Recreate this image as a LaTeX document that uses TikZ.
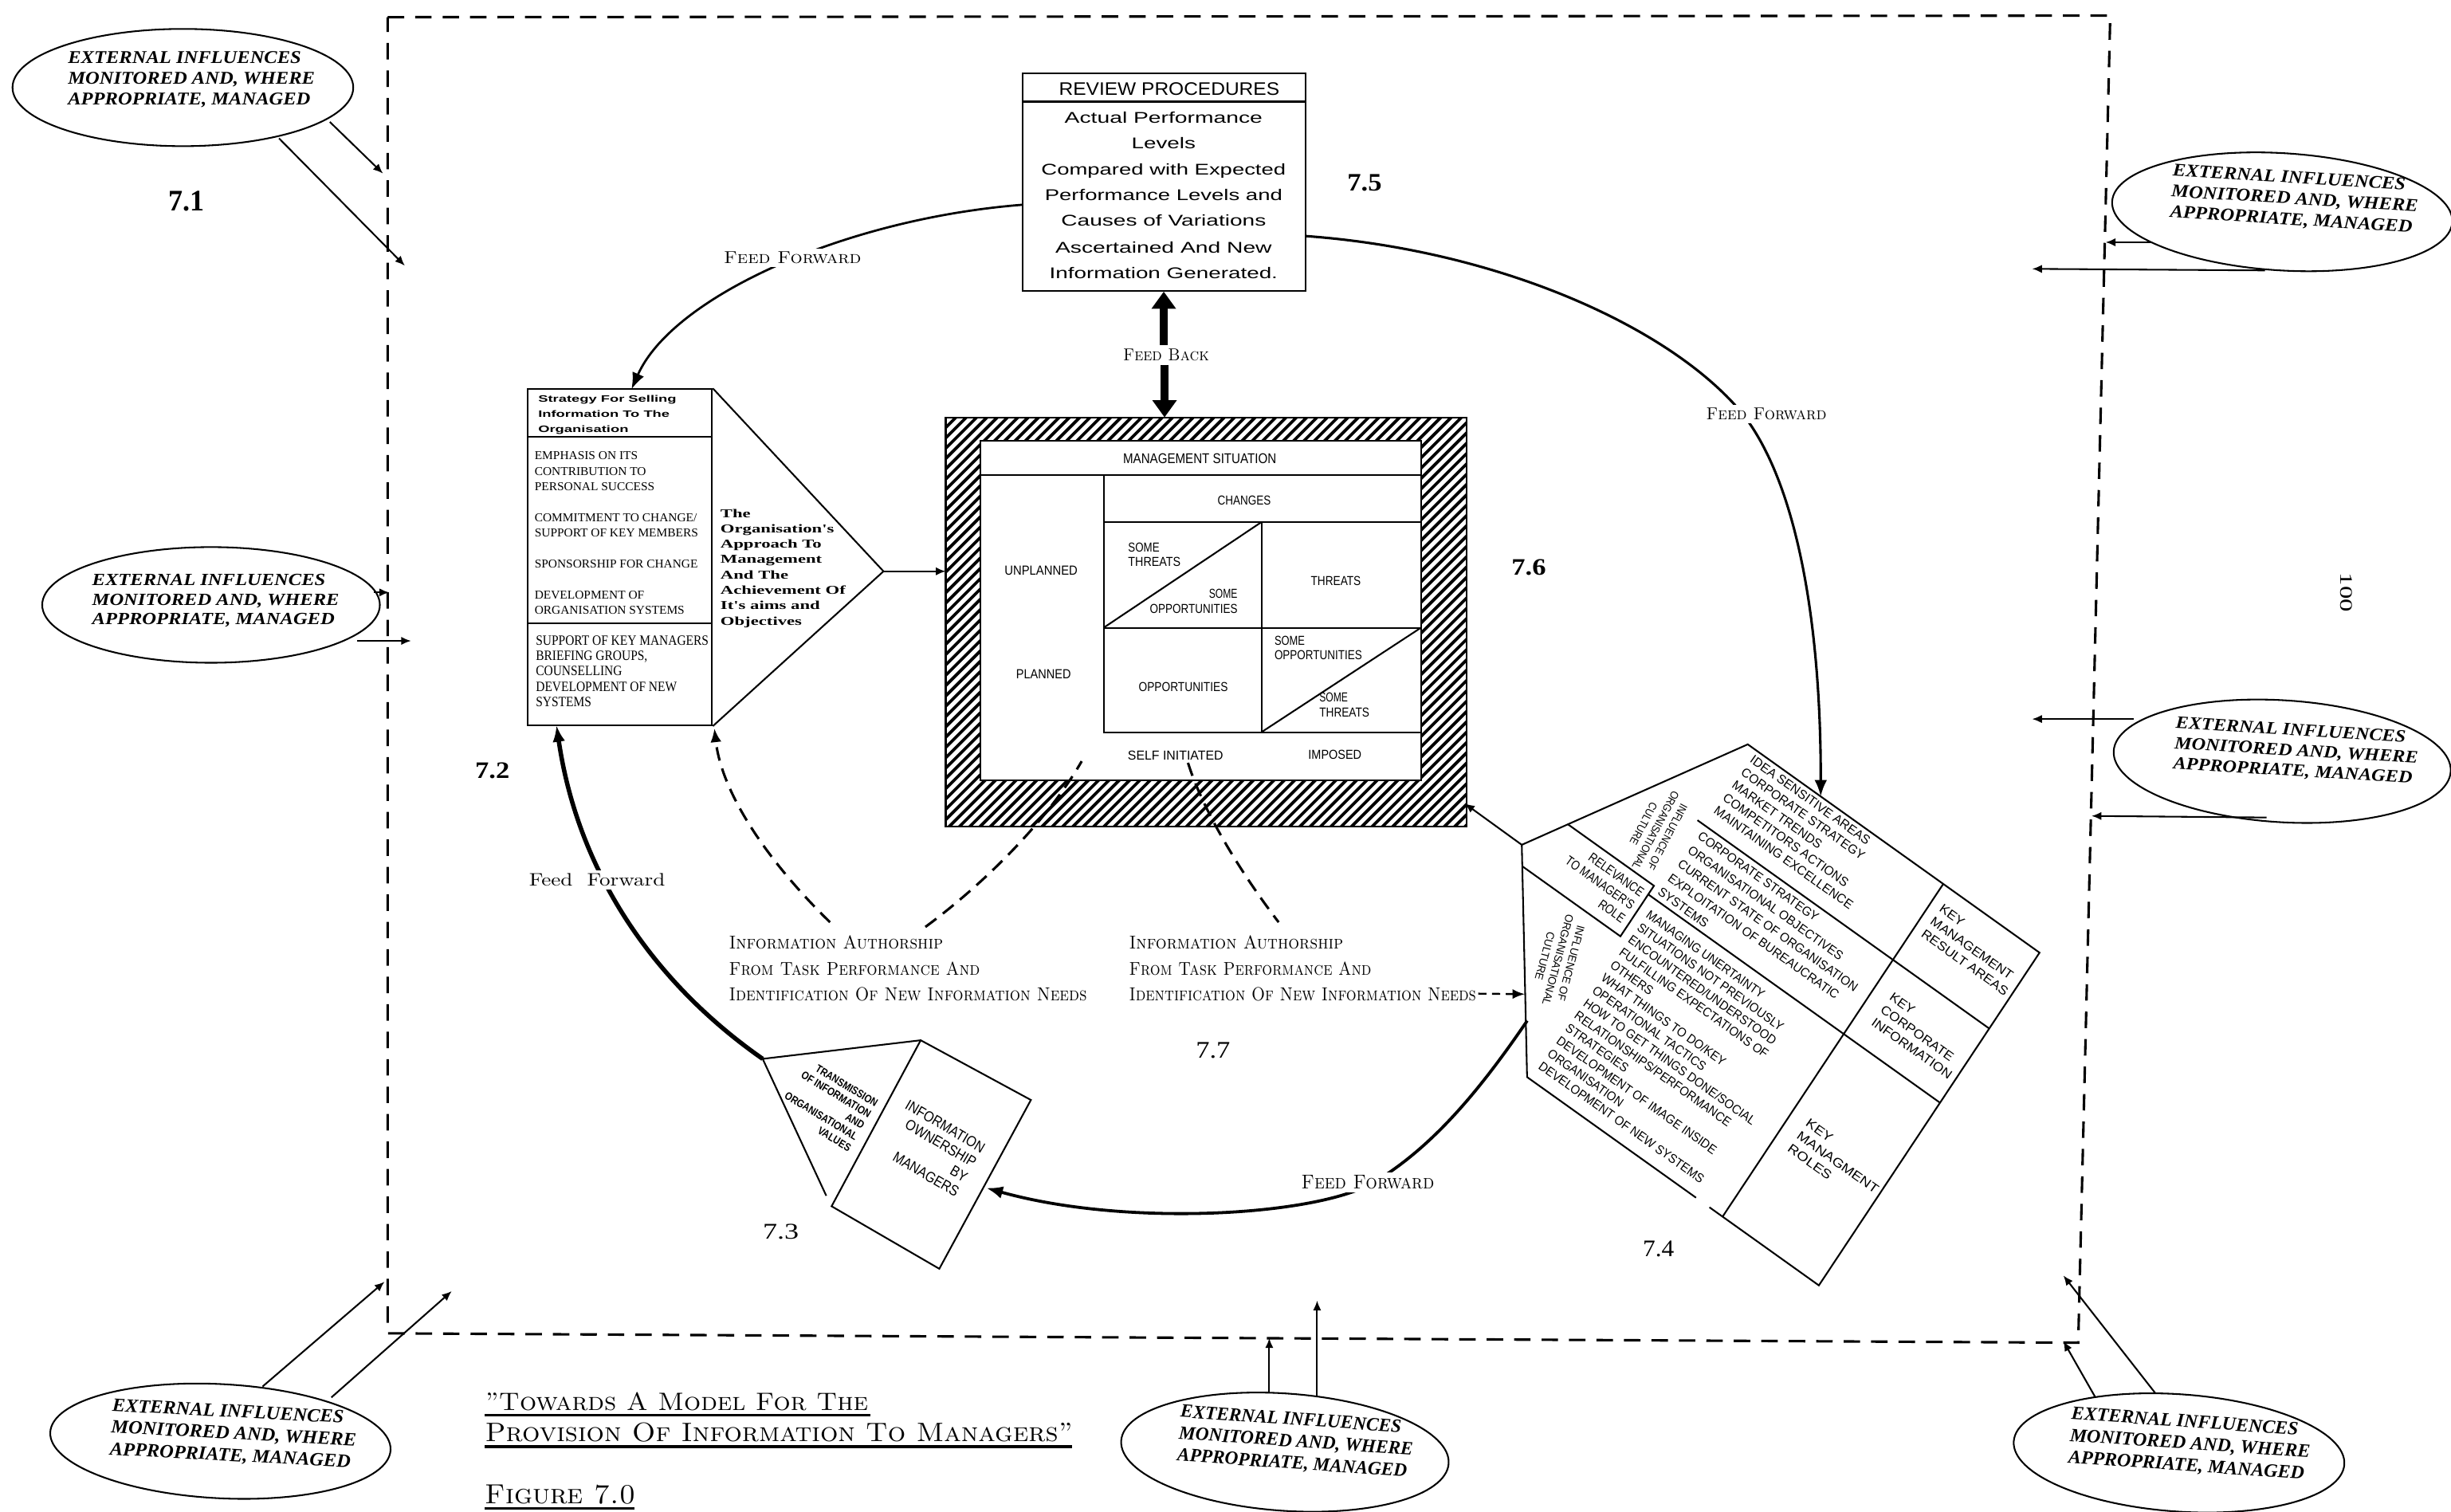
\documentclass[tikz,border=0pt]{standalone}
\usepackage{fontspec}
\usepackage{graphicx}
\usetikzlibrary{arrows.meta,shapes.geometric}
\newfontfamily\fser{Liberation Serif}
\newfontfamily\fsans{Liberation Sans}
\newlength\pxl
\setlength\pxl{0.02cm}
\newcommand\pu{0.02cm}
\newcommand\rb[3]{\resizebox{#1\pxl}{#2\pxl}{#3}}
\newcommand\rbt[4]{\resizebox*{#1\pxl}{#2\pxl}{\begin{tabular}{@{}#3@{}}#4\end{tabular}}}
\newcommand\extxt{EXTERNAL INFLUENCES\\MONITORED AND, WHERE\\APPROPRIATE, MANAGED}
\tikzset{
  ln/.style={line width=0.6pt},
  ell/.style={draw, ellipse, line width=0.6pt, inner sep=0pt},
  etx/.style={inner sep=0pt, font=\fser\bfseries\itshape\fontsize{10}{11.6}\selectfont},
  tx/.style={inner sep=0pt},
  lab/.style={inner sep=1.2pt, fill=white},
  sm/.style={line width=0.6pt, -{Latex[length=3.6pt,width=3pt]}},
  ffa/.style={-{Latex[length=6pt,width=4.6pt]}},
  dsh/.style={line width=0.9pt, dash pattern=on 5pt off 3pt},
  bound/.style={line width=0.9pt, dash pattern=on 6pt off 4pt},
  fbk/.style={line width=0.1cm, -{Triangle[length=0.22cm,width=0.3cm]}},
  ks/.style={tx, rotate=-35.4, anchor=north west},
}
\begin{document}
\begin{tikzpicture}[x=0.02cm,y=-0.02cm]
\useasboundingbox (0,0) rectangle (1568,967.3);
\fill[white] (0,0) rectangle (1568,967.3);

% ---------- dashed boundary ----------
\coordinate (bTL) at (248,11);
\coordinate (bTR) at (1350,10);
\coordinate (bBR) at (1329.5,859);
\coordinate (bBL) at (248,853);
\draw[bound] (bTL) -- (bTR) -- (bBR) -- (bBL) -- cycle;

% ---------- ellipses ----------
\node[ell, minimum width=218*\pu, minimum height=75*\pu] (e1) at (117,56) {};
\node[etx] (e1t) at (122.5,51) {\rbt{158}{40}{l}{\extxt}};
\coordinate (e1a1) at (211,78); \coordinate (e1b1) at (245,111);
\coordinate (e1a2) at (178.5,88.5); \coordinate (e1b2) at (259,170);
\draw[sm] (e1a1) -- (e1b1);
\draw[sm] (e1a2) -- (e1b2);
\node[tx] (n71) at (119.5,128.7) {\rb{23}{12.6}{\fser\bfseries 7.1}};

\node[ell, minimum width=216*\pu, minimum height=74*\pu] (e2) at (135,387) {};
\node[etx] (e2t) at (138,384.5) {\rbt{158}{38}{l}{\extxt}};
\coordinate (e2a1) at (239,379); \coordinate (e2b1) at (249,379);
\coordinate (e2a2) at (228.5,410); \coordinate (e2b2) at (263,410);
\draw[sm] (e2a1) -- (e2b1);
\draw[sm] (e2a2) -- (e2b2);

\node[ell, rotate=-3, minimum width=218*\pu, minimum height=73*\pu] (e3) at (141,922) {};
\node[etx, rotate=-3] (e3t) at (149.5,918) {\rbt{157}{42}{l}{\extxt}};
\coordinate (e3a1) at (168,887); \coordinate (e3b1) at (246,820);
\coordinate (e3a2) at (212,894); \coordinate (e3b2) at (289,826);
\draw[sm] (e3a1) -- (e3b1);
\draw[sm] (e3a2) -- (e3b2);

\node[ell, rotate=-4, minimum width=210*\pu, minimum height=75*\pu] (e4) at (822,929) {};
\node[etx, rotate=-4] (e4t) at (829,923) {\rbt{150}{42}{l}{\extxt}};
\coordinate (e4a1) at (812,891); \coordinate (e4b1) at (812,856);
\coordinate (e4a2) at (842.6,893); \coordinate (e4b2) at (842.6,832);
\draw[sm] (e4a1) -- (e4b1);
\draw[sm] (e4a2) -- (e4b2);

\node[ell, rotate=-3.5, minimum width=218*\pu, minimum height=75*\pu] (e5) at (1460,135.5) {};
\node[etx, rotate=-3.5] (e5t) at (1468,128) {\rbt{158}{40}{l}{\extxt}};
\coordinate (e5a1) at (1377,155); \coordinate (e5b1) at (1347,155);
\coordinate (e5a2) at (1449,173); \coordinate (e5b2) at (1300,172);
\draw[sm] (e5a1) -- (e5b1);
\draw[sm] (e5a2) -- (e5b2);

\node[ell, rotate=-3.5, minimum width=216*\pu, minimum height=78*\pu] (e6) at (1460,487) {};
\node[etx, rotate=-3.5] (e6t) at (1469,481) {\rbt{156}{39}{l}{\extxt}};
\coordinate (e6a1) at (1365,460); \coordinate (e6b1) at (1300,460);
\coordinate (e6a2) at (1450,523); \coordinate (e6b2) at (1338,522);
\draw[sm] (e6a1) -- (e6b1);
\draw[sm] (e6a2) -- (e6b2);

\node[ell, rotate=-4, minimum width=212*\pu, minimum height=75*\pu] (e7) at (1394,929.5) {};
\node[etx, rotate=-4] (e7t) at (1401,924.5) {\rbt{154}{42}{l}{\extxt}};
\coordinate (e7a1) at (1379,891.5); \coordinate (e7b1) at (1320,816);
\coordinate (e7a2) at (1340.5,894); \coordinate (e7b2) at (1320,858);
\draw[sm] (e7a1) -- (e7b1);
\draw[sm] (e7a2) -- (e7b2);

\node[tx, rotate=-90] (p100) at (1501,379) {\rb{25}{7.5}{\fser 100}};

% ---------- review procedures ----------
\node[draw, ln, inner sep=0pt, minimum width=181*\pu, minimum height=139*\pu] (rev) at (744.5,116.5) {};
\draw[ln] (654,65) -- (835,65);
\node[tx, anchor=base] (rvh) at (748,60.8) {\rb{141}{8.1}{\fsans REVIEW PROCEDURES}};
\node[tx, anchor=base] (rv1) at (744.4,79) {\rb{126.6}{7.2}{\fsans Actual Performance}};
\node[tx, anchor=base] (rv2) at (744.4,95.2) {\rb{41}{7.2}{\fsans Levels}};
\node[tx, anchor=base] (rv3) at (744.4,111.9) {\rb{156.4}{7.2}{\fsans Compared with Expected}};
\node[tx, anchor=base] (rv4) at (744.4,128.3) {\rb{152}{7.2}{\fsans Performance Levels and}};
\node[tx, anchor=base] (rv5) at (744.4,144.8) {\rb{131}{7.2}{\fsans Causes of Variations}};
\node[tx, anchor=base] (rv6) at (744.4,161.8) {\rb{138.5}{7.2}{\fsans Ascertained And New}};
\node[tx, anchor=base] (rv7) at (744.4,178.1) {\rb{146}{7.2}{\fsans Information Generated.}};
\node[tx] (n75) at (873,117) {\rb{22}{10.5}{\fser\bfseries 7.5}};

% ---------- management situation ----------
\node[tx, minimum width=333*\pu, minimum height=262*\pu] (ms) at (771.5,398) {};
\begin{scope}
  \clip (605,267) rectangle (938,529);
  \foreach \i in {0,...,91} { \draw[line width=1.1pt] ({343+6.6*\i},529) -- ++(262,-262); }
\end{scope}
\fill[white] (627,282) rectangle (909,499);
\draw[ln] (605,267) rectangle (938,529);
\draw[ln] (627,282) rectangle (909,499);
\draw[ln] (627,304) -- (909,304);
\draw[ln] (706,304) -- (706,468.4) -- (909,468.4);
\draw[ln] (706,334) -- (909,334);
\draw[ln] (706,401.6) -- (909,401.6);
\draw[ln] (807,334) -- (807,468.4);
\draw[ln] (706,401.6) -- (807,334);
\draw[ln] (807,468.4) -- (909,401.6);
\node[tx] (mst) at (767.5,293.5) {\rb{98}{6.3}{\fsans MANAGEMENT SITUATION}};
\node[tx] (chg) at (796,320) {\rb{34}{5.8}{\fsans CHANGES}};
\node[tx] (unp) at (666,365) {\rb{46.7}{5.8}{\fsans UNPLANNED}};
\node[tx] (pln) at (667.6,431.4) {\rb{35}{5.8}{\fsans PLANNED}};
\node[tx, anchor=west] (s1a) at (721.4,350) {\rb{20}{5.8}{\fsans SOME}};
\node[tx, anchor=west] (s1b) at (721.4,359.4) {\rb{33.5}{5.8}{\fsans THREATS}};
\node[tx, anchor=east] (s1c) at (792,380) {\rb{18.2}{5.8}{\fsans SOME}};
\node[tx, anchor=east] (s1d) at (792,389.6) {\rb{56}{5.8}{\fsans OPPORTUNITIES}};
\node[tx] (thr) at (854.6,371.7) {\rb{32}{5.8}{\fsans THREATS}};
\node[tx, anchor=west] (s2a) at (815,410) {\rb{19.4}{5.8}{\fsans SOME}};
\node[tx, anchor=west] (s2b) at (815,419) {\rb{56}{5.8}{\fsans OPPORTUNITIES}};
\node[tx] (opp) at (757,439.6) {\rb{57}{5.8}{\fsans OPPORTUNITIES}};
\node[tx, anchor=west] (s2c) at (843.7,446) {\rb{18.2}{5.8}{\fsans SOME}};
\node[tx, anchor=west] (s2d) at (843.7,455.6) {\rb{32}{5.8}{\fsans THREATS}};
\node[tx] (slf) at (752,483.4) {\rb{61}{5.8}{\fsans SELF INITIATED}};
\node[tx] (imp) at (854,483) {\rb{34}{5.8}{\fsans IMPOSED}};
\node[tx] (n76) at (978,363) {\rb{22}{10}{\fser\bfseries 7.6}};

% ---------- feed back ----------
\node[lab] (fb) at (746,227) {\rb{55}{7.5}{\scshape Feed Back}};
\coordinate (msn) at (745,267);
\draw[fbk] (fb.north -| rev.south) -- (rev.south);
\draw[fbk] (fb.south -| msn) -- (msn);

% ---------- strategy box 7.2 ----------
\node[draw, ln, inner sep=0pt, minimum width=118.1*\pu, minimum height=215*\pu] (st) at (396.45,356.5) {};
\draw[ln] (337.4,279.6) -- (455.5,279.6);
\draw[ln] (337.4,398.6) -- (455.5,398.6);
\coordinate (sttip) at (565.2,365.5);
\draw[ln] (st.north east) -- (sttip) -- (st.south east);
\coordinate (msl) at (605,365.5);
\draw[sm] (sttip) -- (msl);
\node[tx, anchor=north west, font=\fsans\bfseries\fontsize{10}{16.4}\selectfont] (sth) at (344,249.9)
  {\rbt{88.4}{29.25}{l}{Strategy For Selling\\Information To The\\Organisation}};
\node[tx, anchor=north west, font=\fser\fontsize{10}{12.85}\selectfont] (stm) at (341.7,286.8)
  {\rbt{104.6}{108.9}{l}{EMPHASIS ON ITS\\CONTRIBUTION TO\\PERSONAL SUCCESS\\ \\COMMITMENT TO CHANGE/\\SUPPORT OF KEY MEMBERS\\ \\SPONSORSHIP FOR CHANGE\\ \\DEVELOPMENT OF\\ORGANISATION SYSTEMS}};
\node[tx, anchor=north west, font=\fser\fontsize{10}{10.9}\selectfont] (stb) at (342.5,405.3)
  {\rbt{110.5}{49.5}{l}{SUPPORT OF KEY MANAGERS\\BRIEFING GROUPS,\\COUNSELLING\\DEVELOPMENT OF NEW\\SYSTEMS}};
\node[tx, anchor=north west, font=\fser\bfseries\fontsize{10}{12.8}\selectfont] (stt) at (460.6,323.7)
  {\rbt{80}{78.7}{l}{The\\Organisation's\\Approach To\\Management\\And The\\Achievement Of\\It's aims and\\Objectives}};
\node[tx] (n72) at (315,493) {\rb{22}{10}{\fser\bfseries 7.2}};

% ---------- box 7.4 ----------
\begin{scope}[shift={(1118.1,476.2)}, x={(3.734cm,-2.666cm)}, y={(-2.824cm,-4.258cm)}]
  \coordinate (kT) at (0,0);
  \coordinate (kR) at (1,0);
  \coordinate (kB) at (1,1);
  \coordinate (kL) at (0,1);
  \coordinate (ktip) at (-0.3706,0.534);
  \coordinate (ktop) at (0.25,0);
  \draw[ln] (ktip) -- (kT) -- (kR) -- (kB) -- (0.625,1);
  \draw[ln] (0.579,1) -- (kL) -- (ktip);
  \draw[ln] (0,0.228) -- (1,0.228);
  \draw[ln] (0,0.451) -- (1,0.451);
  \draw[ln] (0.67,0) -- (0.67,1);
  \draw[ln] (-0.295,0.425) -- (0,0.425) -- (0,0.577) -- (-0.3364,0.577);
  \node[ks, font=\fsans\fontsize{10}{12.3}\selectfont] (k1) at (0.03,0.005)
    {\rbt{107}{50}{l}{IDEA SENSITIVE AREAS\\CORPORATE STRATEGY\\MARKET TRENDS\\COMPETITORS ACTIONS\\MAINTAINING EXCELLENCE}};
  \node[ks, font=\fsans\fontsize{10}{13.6}\selectfont] (k2) at (0.026,0.234)
    {\rbt{139}{55}{l}{CORPORATE STRATEGY\\ORGANISATIONAL OBJECTIVES\\CURRENT STATE OF ORGANISATION\\EXPLOITATION OF BUREAUCRATIC\\SYSTEMS}};
  \node[ks, font=\fsans\fontsize{10}{12.2}\selectfont] (k3) at (0.027,0.4726)
    {\rbt{133}{128.7}{l}{MANAGING UNERTAINTY\\SITUATIONS NOT PREVIOUSLY\\ENCOUNTERED/UNDERSTOOD\\FULFILLING EXPECTATIONS OF\\OTHERS\\WHAT THINGS TO DO/KEY\\OPERATIONAL TACTICS\\HOW TO GET THINGS DONE/SOCIAL\\RELATIONSHIPS/PERFORMANCE\\STRATEGIES\\DEVELOPMENT OF IMAGE INSIDE\\ORGANISATION\\DEVELOPMENT OF NEW SYSTEMS}};
  \node[ks, font=\fsans\fontsize{10}{12.3}\selectfont] (k4) at (0.70,0.033)
    {\rbt{66}{30}{l}{KEY\\MANAGEMENT\\RESULT AREAS}};
  \node[ks, font=\fsans\fontsize{10}{12.3}\selectfont] (k5) at (0.72,0.2854)
    {\rbt{61}{30}{l}{KEY\\CORPORATE\\INFORMATION}};
  \node[ks, font=\fsans\fontsize{10}{12.3}\selectfont] (k6) at (0.72,0.665)
    {\rbt{62}{30}{l}{KEY\\MANAGMENT\\ROLES}};
  \node[tx, rotate=-118, font=\fsans\fontsize{10}{12.3}\selectfont] (k7) at (-0.085,0.31)
    {\rbt{56}{26}{c}{INFLUENCE OF\\ORGANISATIONAL\\CULTURE}};
  \node[tx, rotate=-105, font=\fsans\fontsize{10}{12.3}\selectfont] (k8) at (-0.112,0.717)
    {\rbt{60}{26}{c}{INFLUENCE OF\\ORGANISATIONAL\\CULTURE}};
  \node[tx, rotate=-35.4, anchor=east, font=\fsans\fontsize{10}{12.3}\selectfont] (k9) at (-0.015,0.501)
    {\rbt{52}{31}{r}{RELEVANCE\\TO MANAGER'S\\ROLE}};
\end{scope}
\node[tx] (n74) at (1061,799) {\rb{20}{10}{\fser 7.4}};

% ---------- box 7.3 ----------
\coordinate (tT) at (589,665.5);
\coordinate (tR) at (659.5,703.7);
\coordinate (tB) at (600.9,811.7);
\coordinate (tL) at (532,771.7);
\coordinate (ttip) at (487.9,677.4);
\coordinate (tle) at (528.6,765);
\draw[ln] (tT) -- (tR) -- (tB) -- (tL) -- cycle;
\draw[ln] (tle) -- (ttip) -- (tT);
\node[tx, rotate=-31, font=\fsans\bfseries\fontsize{10}{11.9}\selectfont] (t1) at (529.3,707.5)
  {\rbt{53}{41.5}{r}{TRANSMISSION\\OF INFORMATION\\AND\\ORGANISATIONAL\\VALUES}};
\node[tx, rotate=-30.4, font=\fsans\fontsize{10}{11.5}\selectfont] (t2) at (595.9,735.6)
  {\rbt{57}{43.6}{r}{INFORMATION\\OWNERSHIP\\BY\\MANAGERS}};
\node[tx] (n73) at (499.5,788) {\rb{23}{9.5}{\fser 7.3}};

% ---------- feed forward loop ----------
\coordinate (c1s) at (654,131);
\coordinate (c1e) at (404,249);
\draw[line width=0.8pt, ffa] (c1s) .. controls (540,140) and (430,190) .. (c1e);
\node[lab] (ff1) at (507,165) {\rb{88}{7.5}{\scshape Feed Forward}};

\coordinate (c2s) at (835,151);
\coordinate (c2m) at (1115,265);
\draw[line width=0.9pt, ffa] (c2s) .. controls (960,160) and (1070,210) .. (c2m) .. controls (1150,310) and (1165,400) .. (ktop);
\node[lab] (ff2) at (1130,265) {\rb{77}{7.5}{\scshape Feed Forward}};

\coordinate (c3e) at (356,464);
\draw[line width=1.6pt, ffa] (ttip) .. controls (420,630) and (370,560) .. (c3e);
\node[lab] (ff3) at (382,563) {\rb{87}{8}{Feed\ \ Forward}};

\coordinate (c4s) at (977,653);
\coordinate (c4m) at (878,757);
\coordinate (c4e) at (631,760);
\draw[line width=1.1pt, ffa] (c4s) .. controls (945,700) and (915,735) .. (c4m) .. controls (840,778) and (720,785) .. (c4e);
\node[lab] (ff4) at (875,756.4) {\rb{85}{8.7}{\scshape Feed Forward}};

\coordinate (c6e) at (937,514);
\draw[sm] (ktip) -- (c6e);

% ---------- information authorship ----------
\node[tx, anchor=base west] (ia1) at (466,607) {\rb{137}{8.5}{\scshape Information Authorship}};
\node[tx, anchor=base west] (ia2) at (466,624) {\rb{160.6}{8.5}{\scshape From Task Performance And}};
\node[tx, anchor=base west] (ia3) at (466,640) {\rb{229}{8.5}{\scshape Identification Of New Information Needs}};
\node[tx, anchor=base west] (ib1) at (722,607) {\rb{137}{8.5}{\scshape Information Authorship}};
\node[tx, anchor=base west] (ib2) at (722,624) {\rb{155}{8.5}{\scshape From Task Performance And}};
\node[tx, anchor=base west] (ib3) at (722,640) {\rb{222}{8.5}{\scshape Identification Of New Information Needs}};
\node[tx] (n77) at (776,672) {\rb{22}{10}{\fser 7.7}};

\coordinate (d1s) at (531,590);
\coordinate (d1e) at (457,466);
\draw[dsh, -{Latex[length=5pt,width=4pt]}] (d1s) .. controls (495,555) and (462,510) .. (d1e);
\coordinate (d2s) at (592,593);
\coordinate (d2e) at (692,487);
\draw[dsh] (d2s) .. controls (630,565) and (670,525) .. (d2e);
\coordinate (d3s) at (760,488);
\coordinate (d3e) at (818,590);
\draw[dsh] (d3s) .. controls (770,520) and (795,560) .. (d3e);
\coordinate (d4s) at (945.7,635.7);
\coordinate (d4e) at (975.5,636);
\draw[dsh, line width=0.7pt, dash pattern=on 3pt off 2pt, -{Latex[length=4.5pt,width=3.6pt]}] (d4s) -- (d4e);

% ---------- title ----------
\node[tx, anchor=base west] (ttl1) at (310,902.5) {\rb{245}{11.5}{\scshape "Towards A Model For The}};
\node[tx, anchor=base west] (ttl2) at (310,922) {\rb{376}{12}{\scshape Provision Of Information To Managers"}};
\draw[line width=0.9pt] (310,905.5) -- (557,905.5);
\draw[line width=0.9pt] (310,925.5) -- (686,925.5);
\node[tx, anchor=base west] (fig) at (310,962) {\rb{96}{12}{\scshape Figure 7.0}};
\draw[line width=0.9pt] (310,965) -- (406,965);
\end{tikzpicture}
\end{document}
